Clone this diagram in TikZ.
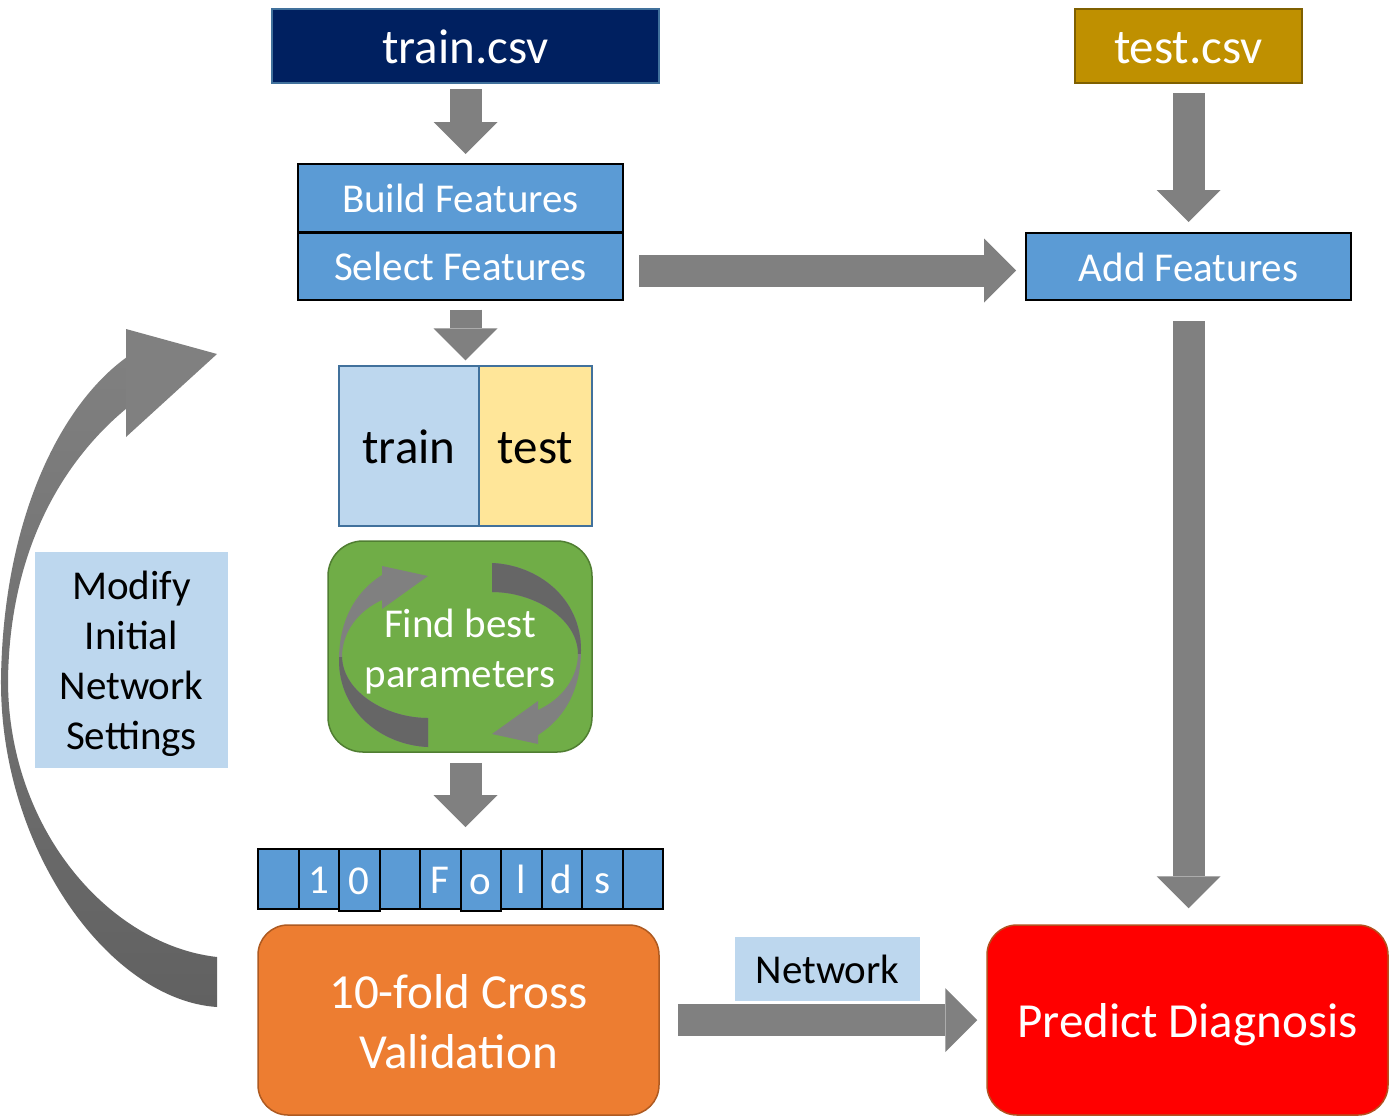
\documentclass[tikz,border=0pt]{standalone}
\usepackage{fontspec}
\setmainfont{Carlito}
\usetikzlibrary{arrows.meta,calc}
\definecolor{navy}{HTML}{002060}
\definecolor{navyedge}{HTML}{41719C}
\definecolor{gold}{HTML}{BF9000}
\definecolor{goldedge}{HTML}{7F6000}
\definecolor{boxblue}{HTML}{5B9BD5}
\definecolor{paleblue}{HTML}{BDD7EE}
\definecolor{paleyellow}{HTML}{FFE699}
\definecolor{greenfill}{HTML}{70AD47}
\definecolor{greenedge}{HTML}{507E32}
\definecolor{orangefill}{HTML}{ED7D31}
\definecolor{orangeedge}{HTML}{AE5A21}
\definecolor{redfill}{HTML}{FF0000}
\definecolor{rededge}{HTML}{B4501E}
\definecolor{agray}{HTML}{808080}
\definecolor{dgray}{HTML}{666666}
\begin{document}
\begin{tikzpicture}[x=1pt,y=-1pt,
  box/.style={rectangle, inner sep=0pt, align=center, text=white},
  bigtext/.style={font=\fontsize{49}{60}\selectfont},
  midtext/.style={font=\fontsize{41}{50}\selectfont},
  bigone/.style={bigtext, text height=36pt, text depth=1pt},
  midone/.style={midtext, text height=30pt, text depth=1pt},
  blackbox/.style={box, fill=boxblue, draw=black, line width=2pt, midone},
  cellbox/.style={box, fill=boxblue, draw=black, line width=2pt, midone,
    minimum width=40.5pt, minimum height=60pt},
  blockarrow/.style={draw=agray, line width=32pt, line cap=butt,
    -{Triangle[length=32pt,width=64pt,line width=0pt]}}
]
\fill[white] (0,0) rectangle (1392,1117);
\useasboundingbox (0,0) rectangle (1392,1117);

% ---------- nodes ----------
\node[box, fill=navy, draw=navyedge, line width=2pt, minimum width=387pt,
  minimum height=74pt, bigone] (trainc) at (465.5,46) {train.csv};
\node[box, fill=gold, draw=goldedge, line width=2pt, minimum width=227pt,
  minimum height=74pt, bigone] (testc) at (1188.5,46) {test.csv};

\node[blackbox, minimum width=325pt, minimum height=68pt] (build) at (460.5,198) {Build Features};
\node[blackbox, minimum width=325pt, minimum height=67pt] (sel) at (460.5,266) {Select Features};
\node[blackbox, minimum width=325pt, minimum height=67pt] (add) at (1188.5,266.5) {Add Features};

\node[box, fill=paleblue, draw=navyedge, line width=1.5pt, minimum width=140pt,
  minimum height=160pt, text=black, bigone] (trn) at (409,446) {train};
\node[box, fill=paleyellow, draw=navyedge, line width=1.5pt, minimum width=113pt,
  minimum height=160pt, text=black, bigone] (tst) at (535.5,446) {test};

\node[box, fill=greenfill, draw=greenedge, line width=1.5pt, rounded corners=35pt,
  minimum width=264pt, minimum height=211pt] (green) at (460,646.5) {};

% cycle arrows inside the green box
\newcommand\cyclepath{%
  (382,575) .. controls (352,594) and (339,625) .. (339,660)
  .. controls (339,712) and (382,745) .. (428,747)
  -- (428,718) .. controls (386,718) and (343,692) .. (342,657)
  .. controls (342,632) and (358,611) .. (382,600) -- cycle}
\newcommand\cyclearrow{%
  \fill[agray] \cyclepath;
  \begin{scope}
    \clip (320,657) rectangle (440,770);
    \fill[dgray] \cyclepath;
  \end{scope}
  \fill[agray] (382,566) -- (428,576) -- (382,609) -- cycle;
}
\cyclearrow
\begin{scope}[rotate around={180:(460,655)}]
  \cyclearrow
\end{scope}
\node[box, midtext, yshift=-5pt] (findtxt) at (green.center) {Find best\\parameters};

\foreach \i/\t in {0/,1/1,3/,4/F,6/l,7/d,8/s,9/} {
  \node[cellbox] (f\i) at ({258+40.5*(\i+0.5)},879) {\t};
}
\foreach \i/\t in {2/0,5/o} {
  \node[cellbox, minimum height=62pt] (f\i) at ({258+40.5*(\i+0.5)},880) {\t};
}

\node[box, fill=orangefill, draw=orangeedge, line width=1.5pt, rounded corners=30pt,
  minimum width=401pt, minimum height=190pt, bigtext] (cv) at (458.5,1020) {};
\node[box, bigtext, yshift=-2pt] (cvtxt) at (cv.center) {10-fold Cross\\Validation};
\node[box, fill=redfill, draw=rededge, line width=1.5pt, rounded corners=30pt,
  minimum width=401pt, minimum height=190pt, bigone] (pred) at (1187.5,1020) {Predict Diagnosis};

\node[box, fill=paleblue, text=black, minimum width=185pt, minimum height=64pt,
  midone] (netl) at (827.5,969) {Network};
\node[box, fill=paleblue, text=black, minimum width=193pt, minimum height=216pt] (modl) at (131.5,660) {};
\node[box, text=black, midtext, yshift=-4pt] (modtxt) at (modl.center) {Modify\\Initial\\Network\\Settings};

% ---------- block arrows ----------
\draw[blockarrow, shorten <=5pt, shorten >=9pt] (trainc.south) -- (trainc.south |- build.north);
\draw[blockarrow, shorten <=9pt, shorten >=5pt] (sel.south -| trainc.south) -- (trainc.south |- trn.north);
\draw[blockarrow, shorten <=10pt, shorten >=21pt] (green.south -| trainc.south) -- (trainc.south |- f4.north);
\draw[blockarrow, shorten <=9pt, shorten >=10pt] (testc.south) -- (testc.south |- add.north);
\draw[blockarrow, shorten <=20pt, shorten >=16pt] (add.south) -- (add.south |- pred.north);
\draw[blockarrow, shorten <=15pt, shorten >=9pt] ([yshift=-4.5pt]sel.east) -- ([yshift=-4.5pt]sel.east -| add.west);
\draw[blockarrow, shorten <=18pt, shorten >=9pt] (cv.east) -- (pred.west);

% ---------- big curved feedback arrow ----------
\shade[top color=agray, bottom color=dgray!95!black]
  (127,357) .. controls (60,405) and (3,520) .. (1,680)
  .. controls (0,850) and (110,1000) .. (217,1007)
  -- (217,957) .. controls (110,945) and (8,830) .. (8,680)
  .. controls (10,540) and (70,455) .. (127,408) -- cycle;
\fill[agray] (126,329) -- (217,354) -- (126,437) -- cycle;
\end{tikzpicture}
\end{document}
